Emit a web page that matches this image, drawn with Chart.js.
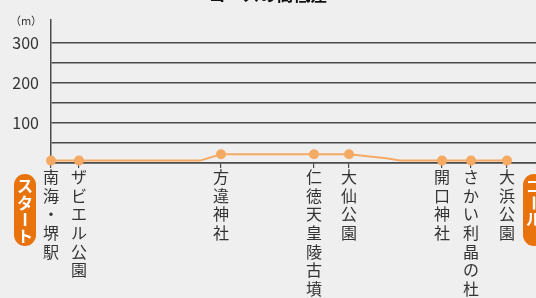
<!DOCTYPE html>
<html>
<head>
<meta charset="utf-8">
<script src="https://cdn.jsdelivr.net/npm/chart.js@4"></script>
<style>
  html, body { margin:0; padding:0; background:#efefef; overflow:hidden; }
  #wrap { width:536px; height:298px; overflow:hidden; position:relative; }
  #elev { position:absolute; left:0; top:-18px; }
</style>
</head>
<body>
<div id="wrap"><canvas id="elev" width="536" height="316"></canvas></div>
<script>
// 地点名と距離(km) — 図から読み取り
const stationNames = ['南海・堺駅','ザビエル公園','方違神社','仁徳天皇陵古墳','大仙公園','開口神社','さかい利晶の杜','大浜公園'];
const stationKm = [0, 0.56, 3.4, 5.26, 5.96, 7.82, 8.4, 9.12];

// ルート上の標高 (m)
const routeKm   = [0, 0.56, 2.98, 3.4, 5.26, 5.96, 6.7, 6.98, 7.82, 8.4, 9.12];
const routeElev = [6, 6, 6, 22, 22, 22, 12, 6, 6, 6, 6];

const yTicks = [0, 50, 100, 150, 200, 250, 300];
const yLabels = [100, 200, 300];

const ORANGE = '#f5aa64';
const BADGE = '#e8720c';
const INK = '#333';
const GRID = '#4d4a4a';
const FONT = '"Noto Sans CJK JP", "Noto Sans", sans-serif';

// スタート / ゴール の縦書きバッジと (m)
const decor = {
  id: 'decor',
  afterDraw(chart) {
    const c = chart.ctx, a = chart.chartArea;
    c.save();
    c.fillStyle = INK;
    c.font = '11px ' + FONT;
    c.textAlign = 'center';
    c.textBaseline = 'middle';
    c.fillText('（m）', 26, a.top + 1);

    function badge(cx, top, h, txt) {
      const w = 22, r = 11;
      c.fillStyle = BADGE;
      c.beginPath();
      c.roundRect(cx - w / 2, top, w, h, r);
      c.fill();
      c.fillStyle = '#fff';
      c.font = 'bold 16px ' + FONT;
      txt.split('').forEach((ch, i) => {
        const y = top + 12 + i * 16.5;
        if (ch === 'ー') {
          c.fillRect(cx - 1.2, y - 6, 2.5, 13);
        } else {
          c.fillText(ch, cx, y);
        }
      });
    }
    badge(a.left - 26, a.bottom + 11, 72, 'スタート');
    badge(a.right - 2, a.bottom + 11, 72, 'ゴール');
    c.restore();
  }
};

new Chart(document.getElementById('elev'), {
  type: 'line',
  data: {
    datasets: [{
      label: '標高',
      data: routeKm.map((k, i) => ({ x: k, y: routeElev[i] })),
      borderColor: ORANGE,
      backgroundColor: ORANGE,
      borderWidth: 2,
      pointRadius: routeKm.map(k => stationKm.includes(k) ? 4 : 0),
      pointHoverRadius: 4,
      tension: 0,
      clip: false
    }]
  },
  options: {
    responsive: false,
    animation: false,
    devicePixelRatio: 1,
    layout: { autoPadding: false, padding: 0 },
    plugins: {
      legend: { display: false },
      tooltip: { enabled: false },
      title: {
        display: true,
        text: 'コースの高低差',
        color: '#111',
        font: { family: FONT, size: 17, weight: 'bold', lineHeight: 1.2 },
        padding: { top: 2, bottom: 15.6 }
      }
    },
    scales: {
      x: {
        type: 'linear',
        min: 0,
        max: 9.7,
        afterBuildTicks: s => { s.ticks = stationKm.map(v => ({ value: v })); },
        afterFit: s => { s.height = 135; s.paddingLeft = 0; s.paddingRight = 0; },
        border: { color: GRID, width: 1.5 },
        grid: { drawOnChartArea: false, color: GRID, lineWidth: 1.2, tickLength: 5 },
        ticks: {
          autoSkip: false,
          maxRotation: 0,
          minRotation: 0,
          padding: 0,
          color: INK,
          font: { family: FONT, size: 16, lineHeight: 1.16 },
          callback: (v, i) => stationNames[i].split('')
        }
      },
      y: {
        min: 0,
        max: 357.5,
        afterBuildTicks: s => { s.ticks = yTicks.map(v => ({ value: v })); },
        afterFit: s => { s.width = 51; },
        border: { color: GRID, width: 1.5 },
        grid: { color: GRID, lineWidth: 1.5, drawTicks: false },
        ticks: {
          padding: 12,
          color: INK,
          font: { family: FONT, size: 16 },
          callback: v => yLabels.includes(v) ? String(v) : ''
        }
      }
    }
  },
  plugins: [decor]
});
</script>
</body>
</html>
